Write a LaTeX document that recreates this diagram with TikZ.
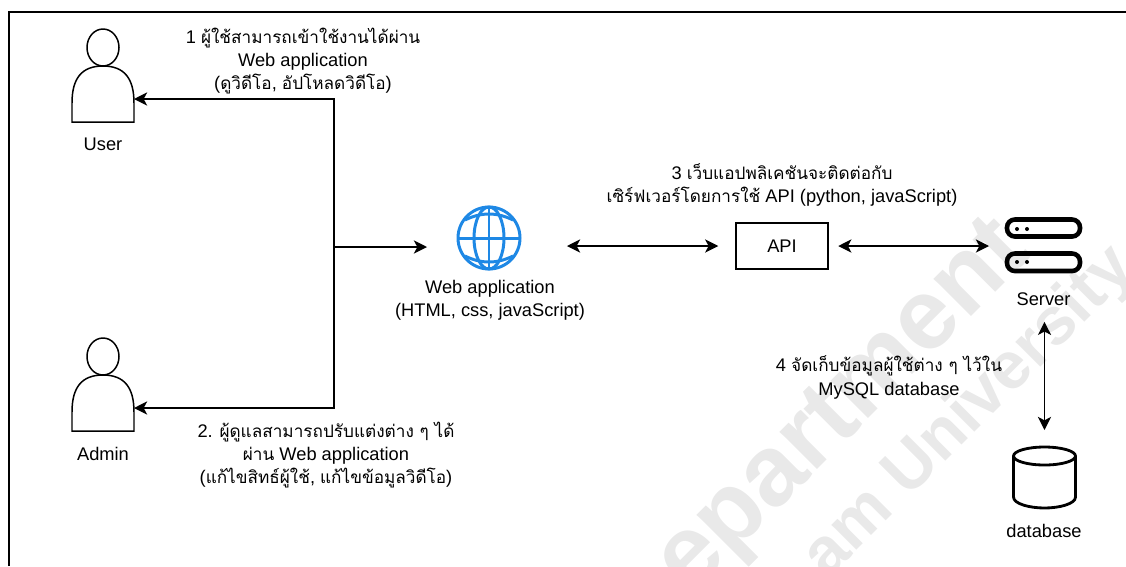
\documentclass[tikz,border=0pt]{standalone}
\usepackage{fontspec}
\setmainfont{Liberation Sans}
\newfontfamily\thaifont[Script=Thai,Scale=.94]{Loma}
\usetikzlibrary{arrows.meta}
\definecolor{globeblue}{HTML}{1E88E5}
\definecolor{markgray}{HTML}{E9E9E9}
\tikzset{
  txt/.style={align=center,inner sep=0pt,font=\fontsize{10.4}{13.3}\selectfont},
  hidden/.style={inner sep=0pt,outer sep=0pt},
  link/.style={line width=.8pt,-{Stealth[length=7.5pt,width=7.5pt,inset=2pt]}},
  both/.style={line width=.8pt,{Stealth[length=7.5pt,width=7.5pt,inset=2pt]}-{Stealth[length=7.5pt,width=7.5pt,inset=2pt]}},
  stamp/.style={rotate=45,text=markgray,inner sep=0pt}
}
\begin{document}
\begin{tikzpicture}[x=.02cm,y=-.02cm]
\useasboundingbox (0,0) rectangle (1126,566);
\node (MarkA) [stamp,font=\fontsize{57}{57}\selectfont\bfseries] at (846,410) {epartment};
\node (MarkB) [stamp,font=\fontsize{38}{38}\selectfont\bfseries] at (970,413) {am University};
\draw [line width=1.4pt] (9,566) -- (9,12) -- (1126,12);
% people on the left
\foreach \who/\dy in {User/0,Admin/309}{
  \draw [line width=.85pt] (103,47.5+\dy) ellipse [x radius=16,y radius=18.5];
  \draw [line width=.85pt] (72,122+\dy) -- (72,103+\dy) .. controls (72,78+\dy) and (82,66+\dy) .. (103,66+\dy)
    .. controls (124,66+\dy) and (134,78+\dy) .. (134,103+\dy) -- (134,122+\dy) -- cycle;
  \node (\who Body) [hidden,minimum width=1.24cm,minimum height=.92cm] at (103,99+\dy) {};
  \node (\who) [txt] at (103,144.5+\dy) {\who};
}
% globe
\node (Globe) [hidden,circle,minimum size=1.28cm] at (489,238) {};
\draw [globeblue,line width=1.7pt] (489,238) circle [radius=31];
\draw [globeblue,line width=1.7pt] (489,238) ellipse [x radius=15,y radius=31];
\draw [globeblue,line width=1.7pt] (489,207) -- (489,269);
\draw [globeblue,line width=1.7pt] (458,238) -- (520,238);
\draw [globeblue,line width=1.7pt] (465,220) .. controls (481,212) and (497,212) .. (513,220);
\draw [globeblue,line width=1.7pt] (465,256) .. controls (481,264) and (497,264) .. (513,256);
\node (Web) [txt] at (490,300) {Web application\\(HTML, css, javaScript)};
\node (API) [draw,line width=.85pt,minimum width=1.84cm,minimum height=.92cm,txt] at (782,246) {API};
% server
\node (Rack) [hidden,minimum width=1.52cm,minimum height=1.14cm] at (1043,246) {};
\draw [line width=2.6pt,rounded corners=4.5pt] (1007,219.5) rectangle (1080,236.5);
\draw [line width=2.6pt,rounded corners=4.5pt] (1007,253.5) rectangle (1080,271);
\fill (1017,229) circle [radius=2];
\fill (1027,229) circle [radius=2];
\fill (1017,262) circle [radius=2];
\fill (1027,262) circle [radius=2];
\node (Server) [txt] at (1043.5,299) {Server};
% database
\node (Drum) [hidden,minimum width=1.26cm,minimum height=1.24cm] at (1044.5,478) {};
\draw [line width=1.6pt] (1044.5,456) ellipse [x radius=31,y radius=9];
\draw [line width=1.6pt] (1013.5,456) -- (1013.5,497) .. controls (1013.5,504) and (1030,508) .. (1044.5,508)
  .. controls (1059,508) and (1075.5,504) .. (1075.5,497) -- (1075.5,456);
\node (Database) [txt] at (1044,531) {database};
% texts of the steps
\node (StepA) [txt] at (303,61) {1 {\thaifont ผู้ใช้สามารถเข้าใช้งานได้ผ่าน}\\Web application\\({\thaifont ดูวิดีโอ}, {\thaifont อัปโหลดวิดีโอ})};
\node (StepB) [txt] at (326,455) {2. {\thaifont ผู้ดูแลสามารถปรับแต่งต่าง ๆ ได้}\\{\thaifont ผ่าน} Web application\\({\thaifont แก้ไขสิทธ์ผู้ใช้}, {\thaifont แก้ไขข้อมูลวิดีโอ})};
\node (StepC) [txt] at (782,185) {3 {\thaifont เว็บแอปพลิเคชันจะติดต่อกับ}\\{\thaifont เซิร์ฟเวอร์โดยการใช้} API (python, javaScript)};
\node (StepD) [txt] at (889,377.5) {4 {\thaifont จัดเก็บข้อมูลผู้ใช้ต่าง ๆ ไว้ใน}\\MySQL database};
% connectors
\coordinate (Hub) at (334,247);
\draw [link] (Hub) |- (UserBody.east);
\draw [link] (Hub) |- (AdminBody.east);
\draw [link,shorten >=.6cm] (Hub) -- (Hub -| Globe.west);
\draw [both,shorten <=.92cm,shorten >=.34cm] (API.west -| Globe.east) -- (API.west);
\draw [both,shorten <=.19cm,shorten >=.32cm] (API.east) -- (Rack.west);
\draw [both,shorten <=.32cm,shorten >=.34cm] (Server.south -| Drum.north) -- (Drum.north);
\end{tikzpicture}
\end{document}
